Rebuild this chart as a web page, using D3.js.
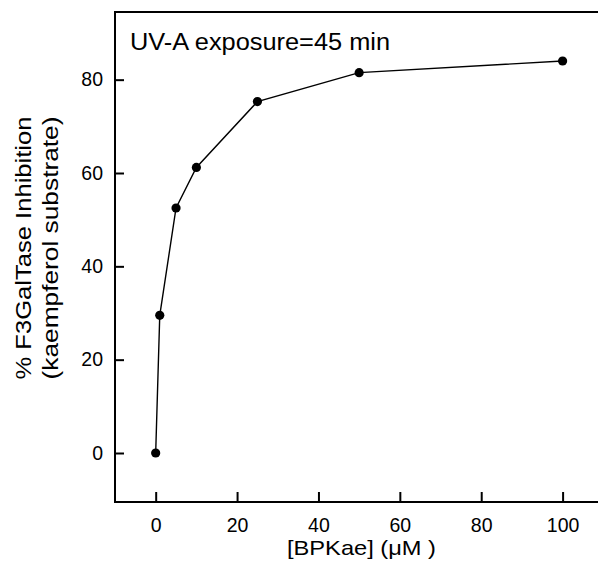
<!DOCTYPE html>
<html><head><meta charset="utf-8">
<script src="https://cdn.jsdelivr.net/npm/d3@7"></script>
<style>body{margin:0;background:#fff}svg{display:block}text{font-family:"Liberation Sans",Arial,sans-serif;fill:#000}</style>
</head><body>
<svg id="c" width="598" height="564"></svg>
<script>
const concentrations = [0, 1, 5, 10, 25, 50, 100];
const inhibition = [0, 29.5, 52.5, 61.2, 75.3, 81.5, 84];
const xTicks = [0, 20, 40, 60, 80, 100];
const yTicks = [0, 20, 40, 60, 80];

const svg = d3.select("#c");
const L = 115, R = 598, T = 12, B = 502;
const x = d3.scaleLinear().domain([-10, 108.7]).range([L, R]);
const y = d3.scaleLinear().domain([-10.5, 94.5]).range([B, T]);

// frame
svg.append("path").attr("d", `M${R+2},${T}H${L}V${B}H${R+2}`).attr("fill","none").attr("stroke","#000").attr("stroke-width",2);

const xa = svg.append("g").attr("transform",`translate(0,${B})`)
  .call(d3.axisBottom(x).tickValues(xTicks).tickSize(-10).tickPadding(16).tickFormat(d3.format("d")));
xa.select(".domain").remove();
xa.selectAll("line").attr("stroke-width",2);
xa.selectAll("text").attr("font-size",19.5).attr("font-family","Liberation Sans, Arial, sans-serif");

const ya = svg.append("g").attr("transform",`translate(${L},0)`)
  .call(d3.axisLeft(y).tickValues(yTicks).tickSize(-9).tickPadding(12).tickFormat(d3.format("d")));
ya.select(".domain").remove();
ya.selectAll("line").attr("stroke-width",2);
ya.selectAll("text").attr("font-size",19.5).attr("font-family","Liberation Sans, Arial, sans-serif");

const pts = concentrations.map((c,i)=>[c, inhibition[i]]);
svg.append("path").datum(pts)
  .attr("d", d3.line().x(d=>x(d[0])).y(d=>y(d[1])))
  .attr("fill","none").attr("stroke","#000").attr("stroke-width",1.4);
svg.selectAll("circle.p").data(pts).enter().append("circle")
  .attr("cx",d=>x(d[0])).attr("cy",d=>y(d[1])).attr("r",4.6).attr("fill","#000");

svg.append("text").attr("x",130).attr("y",50).attr("font-size",23)
  .attr("textLength",260).attr("lengthAdjust","spacingAndGlyphs").text("UV-A exposure=45 min");
svg.append("text").attr("x",287).attr("y",555).attr("font-size",21)
  .attr("textLength",149).attr("lengthAdjust","spacingAndGlyphs").text("[BPKae] (μM )");
const yl = svg.append("g").attr("transform","translate(0,248) rotate(-90)");
yl.append("text").attr("x",-131.5).attr("y",31).attr("font-size",21.5)
  .attr("textLength",263).attr("lengthAdjust","spacingAndGlyphs").text("% F3GalTase Inhibition");
yl.append("text").attr("x",-131.5).attr("y",58).attr("font-size",21.5)
  .attr("textLength",263).attr("lengthAdjust","spacingAndGlyphs").text("(kaempferol substrate)");
</script>
</body></html>
